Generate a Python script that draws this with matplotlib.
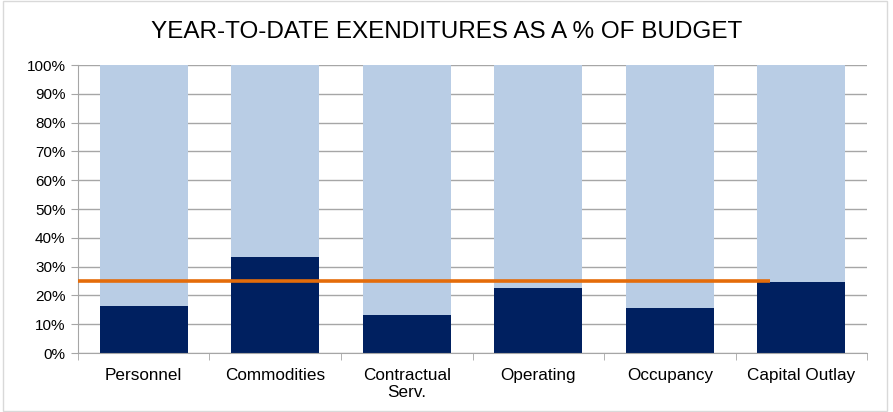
import matplotlib
matplotlib.use("Agg")
import matplotlib.pyplot as plt
from matplotlib.patches import Rectangle
import numpy as np

plt.rcParams["font.family"] = ["Liberation Sans", "DejaVu Sans"]

categories = ["Personnel", "Commodities", "Contractual\nServ.", "Operating",
              "Occupancy", "Capital Outlay"]
spent_pct = [16.3, 33.2, 13.2, 22.7, 15.6, 24.6]
budget_pct = [100, 100, 100, 100, 100, 100]
target_pct = 25
target_end = 4.76   # the orange line stops partway into the last bar

NAVY = "#002060"
LIGHT = "#B9CDE5"
ORANGE = "#E46C0A"
GRID = "#A6A6A6"

fig = plt.figure(figsize=(8.93, 4.12), dpi=100)
ax = fig.add_axes([0.0873, 0.143, 0.8837, 0.699])

x = np.arange(len(categories))
remaining = [b - s for b, s in zip(budget_pct, spent_pct)]
ax.bar(x, spent_pct, width=0.67, color=NAVY, zorder=2)
ax.bar(x, remaining, bottom=spent_pct, width=0.67, color=LIGHT, zorder=2)
ax.plot([-0.5, target_end], [target_pct, target_pct], color=ORANGE, lw=2.6,
        zorder=3, solid_capstyle="butt")

ax.set_xlim(-0.5, len(categories) - 0.5)
ax.set_ylim(0, 100)
ax.set_yticks(np.arange(0, 101, 10))
ax.set_yticklabels([f"{v}%" for v in range(0, 101, 10)], fontsize=11)
ax.yaxis.grid(True, color=GRID, lw=1, zorder=0)
ax.set_axisbelow(True)

ax.set_xticks(x)
ax.set_xticklabels(categories, fontsize=12.3)
ax.set_xticks(np.arange(-0.5, len(categories)), minor=True)
ax.tick_params(axis="x", which="major", length=0, pad=11)
ax.tick_params(axis="x", which="minor", length=5, color=GRID, direction="out")
ax.tick_params(axis="y", length=5, color=GRID, direction="out", pad=4)
for lab in ax.get_xticklabels():
    lab.set_verticalalignment("top")
    lab.set_linespacing(1.1)

for side in ("top", "right"):
    ax.spines[side].set_visible(False)
for side in ("left", "bottom"):
    ax.spines[side].set_color(GRID)

fig.text(0.5, 0.922, "YEAR-TO-DATE EXENDITURES AS A % OF BUDGET",
         ha="center", va="center", fontsize=17.5)

fig.patches.append(Rectangle((0.003, 0.002), 0.99, 0.996,
                             transform=fig.transFigure, fill=False,
                             edgecolor="#D9D9D9", lw=1))

fig.savefig("out.png", dpi=100)
